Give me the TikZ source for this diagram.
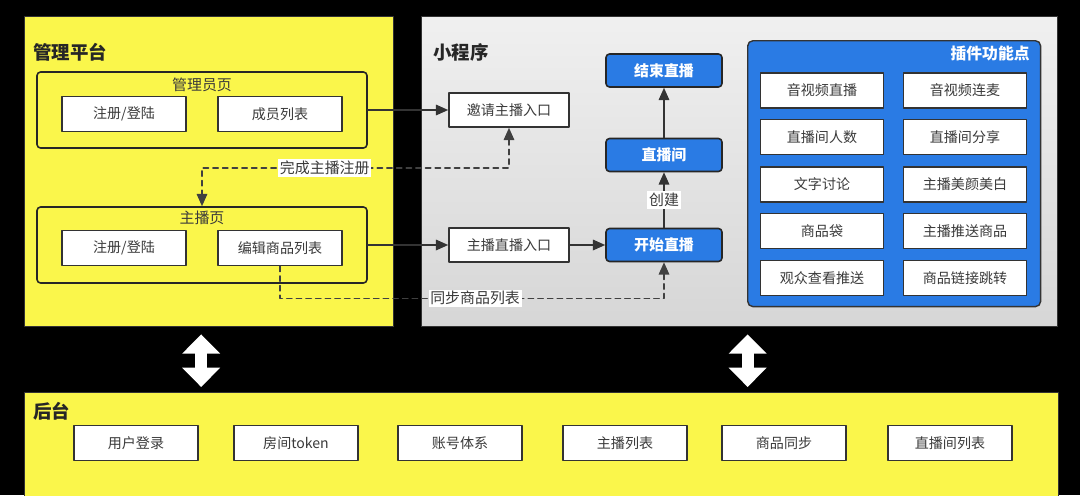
\documentclass[tikz,border=0pt]{standalone}
\usepackage{fontspec}
\setmainfont{Noto Sans CJK SC}
\usetikzlibrary{arrows.meta}

\definecolor{panelyellow}{HTML}{FAF64B}
\definecolor{plugblue}{HTML}{2A7BE4}
\definecolor{boxline}{HTML}{333333}
\definecolor{textgray}{HTML}{3A3A3A}

\tikzset{
  panel/.style={draw=black!80, line width=0.8pt, anchor=north west, inner sep=0pt},
  group/.style={draw=black!85, line width=0.9pt, rounded corners=2pt,
    minimum width=6.6cm, minimum height=1.52cm, inner sep=0pt},
  item/.style={draw=boxline, line width=0.9pt, fill=white, inner sep=0pt,
    minimum width=2.48cm, minimum height=0.7cm, text=textgray,
    font=\fontsize{8}{9}\selectfont},
  bluebox/.style={draw=black!85, line width=0.9pt, fill=plugblue, rounded corners=2pt,
    minimum width=2.32cm, minimum height=0.66cm, text=white, inner sep=0pt,
    font=\bfseries\fontsize{8.5}{10}\selectfont},
  title/.style={anchor=west, inner sep=0pt, text=black!85,
    font=\bfseries\fontsize{10.5}{12}\selectfont},
  subtitle/.style={inner sep=0pt, text=textgray, font=\fontsize{8.5}{10}\selectfont},
  lbl/.style={fill=white, inner sep=1pt, text=textgray, font=\fontsize{8.5}{10}\selectfont},
  flow/.style={-{Triangle[length=7pt,width=6pt]}, line width=0.9pt, draw=black!80},
  syncline/.style={line width=0.9pt, draw=black!75, dash pattern=on 3pt off 2.5pt},
  bigarrow/.style={{Triangle[length=11pt,width=21pt]}-{Triangle[length=11pt,width=21pt]},
    line width=6.8pt, white},
}

\begin{document}
\begin{tikzpicture}[x=0.02cm, y=-0.02cm, line cap=round, line join=round]
  \fill[black] (0,0) rectangle (1080,495);
  \useasboundingbox (0,0) rectangle (1080,495);

  % panels
  \node[panel, fill=panelyellow, minimum width=7.38cm, minimum height=6.2cm] (mgmt) at (24,16) {};
  \node[panel, top color=gray!12, bottom color=gray!32, minimum width=12.72cm, minimum height=6.2cm] (mini) at (421,16) {};
  \node[panel, fill=panelyellow, minimum width=20.68cm, minimum height=2.3cm] (backend) at (24,392) {};

  \node[title] (mgmttitle) at (33,52) {管理平台};
  \node[title] (minititle) at (433,52) {小程序};
  \node[title] (backtitle) at (33,411) {后台};

  % management platform
  \node[group] (adminpage) at (202,110) {};
  \node[subtitle] (admintitle) at (202,85) {管理员页};
  \node[item] (adminlogin) at (124,114) {注册/登陆};
  \node[item] (members) at (280,114) {成员列表};

  \node[group] (hostpage) at (202,245) {};
  \node[subtitle] (hosttitle) at (202,218) {主播页};
  \node[item] (hostlogin) at (124,248) {注册/登陆};
  \node[item] (editgoods) at (280,248) {编辑商品列表};

  % mini program
  \node[item, minimum width=2.4cm, minimum height=0.68cm] (invite) at (509,110) {邀请主播入口};
  \node[item, minimum width=2.4cm, minimum height=0.68cm] (liveentry) at (509,245) {主播直播入口};
  \node[bluebox] (endlive) at (664,70.5) {结束直播};
  \node[bluebox] (liveroom) at (664,155) {直播间};
  \node[bluebox] (startlive) at (664,245) {开始直播};

  \draw[flow] (adminpage.east) -- (invite.west);
  \draw[flow] (hostpage.east) -- (liveentry.west);
  \draw[flow] (liveentry.east) -- (startlive.west);
  \draw[flow] (startlive.north) -- node[lbl] {创建} (liveroom.south);
  \draw[flow] (liveroom.north) -- (endlive.south);

  \draw[syncline, {Triangle[length=7pt,width=6pt]}-{Triangle[length=7pt,width=6pt]}]
    (invite.south) -- ++(0,40) -| node[lbl, pos=0.3] {完成主播注册} (hostpage.north);
  \draw[syncline, -{Triangle[length=7pt,width=6pt]}]
    (editgoods.south) -- ++(0,32) -| node[lbl, pos=0.254] {同步商品列表} (startlive.south);

  % plugin features
  \node[panel, fill=plugblue, rounded corners=3pt, minimum width=5.86cm, minimum height=5.32cm] (plugins) at (747,40) {};
  \node[title, anchor=east, text=white, font=\bfseries\fontsize{9}{10}\selectfont] (plugtitle) at (1030,53) {插件功能点};
  \node[item, minimum width=2.46cm] (avlive) at (822,90.5) {音视频直播};
  \node[item, minimum width=2.46cm] (avmic) at (965,90.5) {音视频连麦};
  \node[item, minimum width=2.46cm] (viewers) at (822,137) {直播间人数};
  \node[item, minimum width=2.46cm] (share) at (965,137) {直播间分享};
  \node[item, minimum width=2.46cm] (chat) at (822,184.5) {文字讨论};
  \node[item, minimum width=2.46cm] (beauty) at (965,184.5) {主播美颜美白};
  \node[item, minimum width=2.46cm] (goodsbag) at (822,231) {商品袋};
  \node[item, minimum width=2.46cm] (pushgoods) at (965,231) {主播推送商品};
  \node[item, minimum width=2.46cm] (viewpush) at (822,278) {观众查看推送};
  \node[item, minimum width=2.46cm] (goodslink) at (965,278) {商品链接跳转};

  % backend
  \node[item] (userlogin) at (136,443) {用户登录};
  \node[item] (roomtoken) at (296,443) {房间token};
  \node[item] (accounts) at (460,443) {账号体系};
  \node[item] (hostlist) at (625,443) {主播列表};
  \node[item] (goodssync) at (784,443) {商品同步};
  \node[item] (roomlist) at (950,443) {直播间列表};

  \draw[bigarrow, shorten <=0.14cm, shorten >=0.1cm]
    ([xshift=-0.16cm]mgmt.south) -- ([xshift=-0.16cm]mgmt.south |- backend.north);
  \draw[bigarrow, shorten <=0.14cm, shorten >=0.1cm]
    ([xshift=0.16cm]mini.south) -- ([xshift=0.16cm]mini.south |- backend.north);
\end{tikzpicture}
\end{document}
